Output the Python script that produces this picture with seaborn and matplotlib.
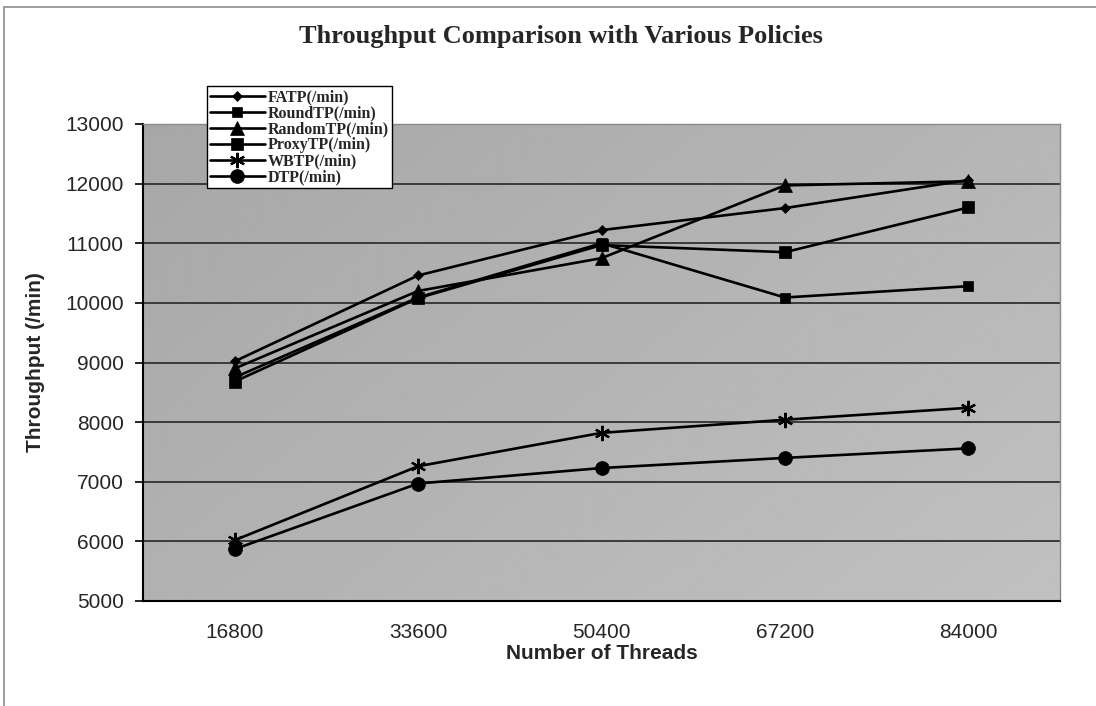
import numpy as np
import pandas as pd
import matplotlib
matplotlib.use("Agg")
import matplotlib.pyplot as plt
import seaborn as sns
from matplotlib.patches import Rectangle

# Number of threads (categorical x axis)
threads = ["16800", "33600", "50400", "67200", "84000"]

# Throughput per policy (/min)
fatp = [9020, 10460, 11220, 11590, 12060]
round_tp = [8750, 10090, 11000, 10090, 10280]
random_tp = [8900, 10200, 10750, 11970, 12040]
proxy_tp = [8680, 10080, 10970, 10850, 11600]
wbtp = [6020, 7260, 7820, 8040, 8240]
dtp = [5870, 6970, 7230, 7400, 7560]

series_names = ["FATP(/min)", "RoundTP(/min)", "RandomTP(/min)",
                "ProxyTP(/min)", "WBTP(/min)", "DTP(/min)"]
series_values = [fatp, round_tp, random_tp, proxy_tp, wbtp, dtp]

y_ticks = [5000, 6000, 7000, 8000, 9000, 10000, 11000, 12000, 13000]

marker_styles = {
    "FATP(/min)": dict(marker="D", markersize=5.5, markeredgewidth=0.5),
    "RoundTP(/min)": dict(marker="s", markersize=6.5, markeredgewidth=0.5),
    "RandomTP(/min)": dict(marker="^", markersize=10, markeredgewidth=0.5),
    "ProxyTP(/min)": dict(marker="s", markersize=9, markeredgewidth=0.5),
    "WBTP(/min)": dict(marker=(6, 2, 0), markersize=11, markeredgewidth=1.6),
    "DTP(/min)": dict(marker="o", markersize=10, markeredgewidth=0.5),
}

sns.set_theme(style="white")
plt.rcParams["font.family"] = ["Liberation Sans", "DejaVu Sans"]

fig = plt.figure(figsize=(10.96, 7.06), dpi=100)
fig.patch.set_facecolor("white")
ax = fig.add_axes([143 / 1096, 1 - 601 / 706, (1060 - 143) / 1096, (601 - 124) / 706])

# shaded plot area, slightly darker toward the upper left
gx, gy = np.meshgrid(np.linspace(0, 1, 200), np.linspace(0, 1, 200))
shade = 0.655 + 0.06 * gx + 0.04 * gy
ax.imshow(shade, extent=[-0.5, 4.5, 5000, 13000], origin="upper", aspect="auto",
          cmap="gray", vmin=0, vmax=1, zorder=0, interpolation="bilinear")

for name, vals in zip(series_names, series_values):
    df = pd.DataFrame({"Threads": threads, "Throughput": vals})
    sns.lineplot(data=df, x="Threads", y="Throughput", ax=ax, color="black",
                 linewidth=1.9, markeredgecolor="black", markerfacecolor="black",
                 label=name, zorder=3, sort=False, **marker_styles[name])

ax.set_xlim(-0.5, 4.5)
ax.set_ylim(5000, 13000)
ax.set_yticks(y_ticks)
ax.set_yticklabels([str(v) for v in y_ticks], fontsize=15)
ax.set_xticks(range(len(threads)))
ax.set_xticklabels(threads, fontsize=15)
ax.set_xticks(np.arange(-0.5, 4.6, 1.0), minor=True)
ax.tick_params(axis="x", which="major", length=0, pad=16)
ax.tick_params(axis="x", which="minor", length=6, width=1.2, color="black", direction="out")
ax.tick_params(axis="y", which="major", length=6, width=1.2, color="black", direction="out", pad=8, left=True)

for yv in y_ticks[1:]:
    ax.axhline(yv, color="#3a3a3a", linewidth=1.4, zorder=1)

for side in ["left", "bottom"]:
    ax.spines[side].set_color("black")
    ax.spines[side].set_linewidth(1.5)
for side in ["top", "right"]:
    ax.spines[side].set_color("#8a8a8a")
    ax.spines[side].set_linewidth(1.0)

ax.set_xlabel("Number of Threads", fontsize=15, fontweight="bold", labelpad=1)
ax.set_ylabel("Throughput (/min)", fontsize=15, fontweight="bold", labelpad=14)

fig.text(561 / 1096, 1 - 37 / 706, "Throughput Comparison with Various Policies",
         family=["Liberation Serif", "DejaVu Serif"], fontsize=19, fontweight="bold",
         ha="center", va="center")

leg = ax.legend(loc="upper left", bbox_to_anchor=(207 / 1096, 1 - 86 / 706),
                bbox_transform=fig.transFigure, frameon=True, fancybox=False,
                handlelength=3.4, handletextpad=0.2, borderpad=0.2,
                labelspacing=0.0, borderaxespad=0,
                prop={"family": ["Liberation Serif", "DejaVu Serif"], "weight": "bold", "size": 11.5})
leg.get_frame().set_edgecolor("black")
leg.get_frame().set_linewidth(1.0)
leg.get_frame().set_facecolor("white")
leg.get_frame().set_alpha(1)
leg.set_zorder(5)

# outer chart frame
fig.patches.append(Rectangle((4 / 1096, -0.05), 1.1, 1 - 7 / 706 + 0.05,
                             transform=fig.transFigure, fill=False,
                             edgecolor="#8c8c8c", linewidth=1.2))

fig.savefig("out.png", dpi=100)
